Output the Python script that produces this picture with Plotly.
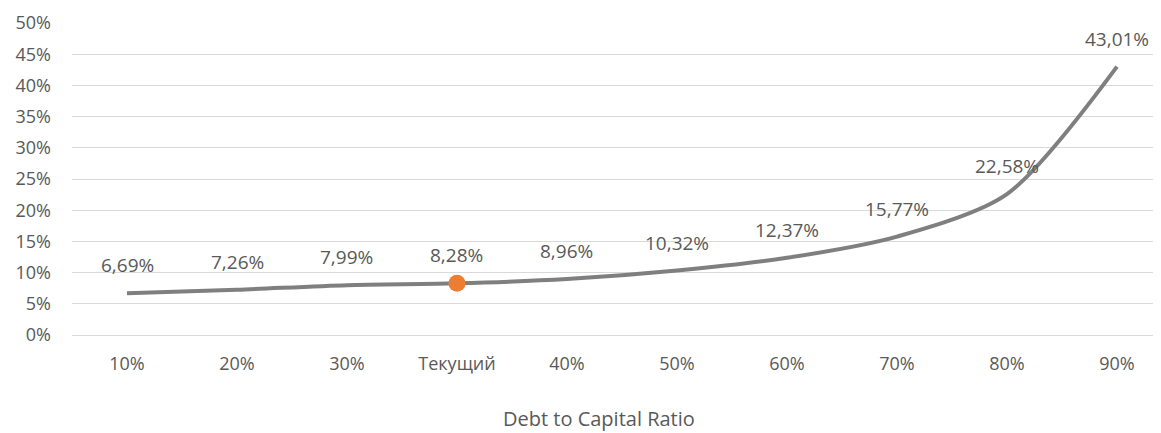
import plotly.graph_objects as go

categories = ["10%", "20%", "30%", "Текущий", "40%", "50%", "60%", "70%", "80%", "90%"]
values = [6.69, 7.26, 7.99, 8.28, 8.96, 10.32, 12.37, 15.77, 22.58, 43.01]
current_label = "Текущий"
y_ticks = [0, 5, 10, 15, 20, 25, 30, 35, 40, 45, 50]
y_tick_labels = [f"{v}%" for v in y_ticks]
labels = [f"{v:.2f}%".replace(".", ",") for v in values]
x_title = "Debt to Capital Ratio"

FONT = "Open Sans, Lato, sans-serif"
TXT = "#595959"

fig = go.Figure()
fig.add_trace(go.Scatter(
    x=categories, y=values, mode="lines",
    line=dict(color="#7f7f7f", width=4, shape="spline", smoothing=0.8),
    hoverinfo="skip", showlegend=False,
))
ci = categories.index(current_label)
fig.add_trace(go.Scatter(
    x=[categories[ci]], y=[values[ci]], mode="markers",
    marker=dict(color="#ED7D31", size=17),
    showlegend=False,
))
for c, v, t in zip(categories, values, labels):
    fig.add_annotation(x=c, y=v, text=t, showarrow=False, yshift=28,
                       font=dict(family=FONT, size=19, color=TXT))

fig.add_annotation(xref="paper", yref="paper", x=0.480, y=-0.268, yanchor="middle",
                   text=x_title, showarrow=False,
                   font=dict(family=FONT, size=20, color=TXT))

fig.update_layout(
    width=1161, height=433,
    margin=dict(l=64, r=0, t=15, b=106),
    paper_bgcolor="white", plot_bgcolor="white",
    font=dict(family=FONT, color=TXT),
    xaxis=dict(
        type="category", categoryorder="array", categoryarray=categories,
        range=[-0.5, 9.473], showgrid=False, zeroline=False, showline=False,
        tickfont=dict(size=18, color=TXT), ticks="", ticklabelstandoff=16,
        automargin=False,
    ),
    yaxis=dict(
        range=[0, 50], tickvals=y_ticks, ticktext=y_tick_labels,
        showgrid=True, gridcolor="#d9d9d9", gridwidth=1,
        zeroline=True, zerolinecolor="#d9d9d9", zerolinewidth=1,
        showline=False, tickfont=dict(size=18, color=TXT), ticks="",
        ticklabelstandoff=20, automargin=False,
    ),
)
fig.write_html("out.html")
